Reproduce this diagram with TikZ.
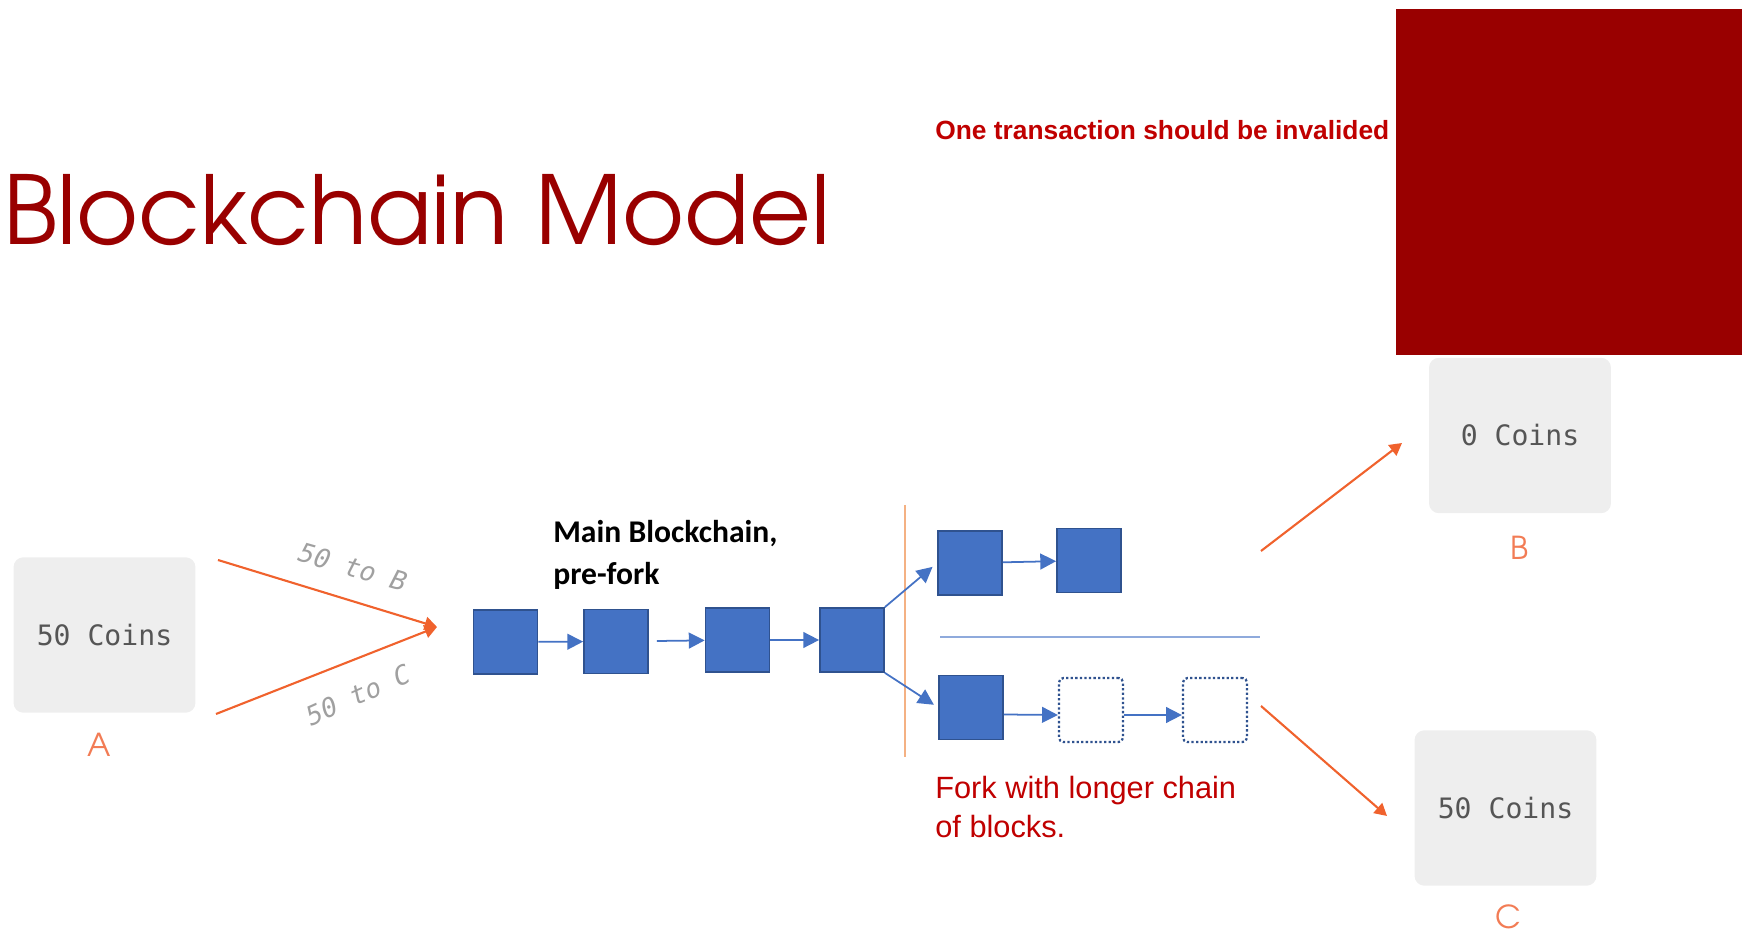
\documentclass[tikz,border=0pt]{standalone}
\usepackage{fontspec}
\usetikzlibrary{arrows.meta}
\IfFontExistsTF{TeX Gyre Adventor}{\newfontfamily\titlefont{TeX Gyre Adventor}}{\newfontfamily\titlefont{Poppins}}
\newfontfamily\monofont{DejaVu Sans Mono}
\newfontfamily\arialfont{Liberation Sans}
\newfontfamily\calfont{Carlito}
\definecolor{titlered}{HTML}{990000}
\definecolor{textred}{HTML}{C00000}
\definecolor{orangeln}{HTML}{F0622D}
\definecolor{orangelbl}{HTML}{F27C55}
\definecolor{coinsgray}{HTML}{555555}
\definecolor{lightgraytxt}{HTML}{A0A0A0}
\definecolor{boxgray}{HTML}{EEEEEE}
\definecolor{blockblue}{HTML}{4472C4}
\definecolor{blockedge}{HTML}{2F528F}
\definecolor{divblue}{HTML}{8FAADC}
\definecolor{vorange}{HTML}{F4B183}
\begin{document}
\begin{tikzpicture}[x=0.02cm,y=0.02cm,
  coinbox/.style={fill=boxgray, rounded corners=0.2cm, minimum width=3.64cm, minimum height=3.11cm, inner sep=0, font=\monofont\fontsize{16}{19}\selectfont, text=coinsgray},
  party/.style={font=\titlefont\fontsize{18}{20}\selectfont, text=orangelbl, inner sep=0},
  blk/.style={draw=blockedge, fill=blockblue, line width=1pt, minimum size=1.28cm, inner sep=0},
  ghost/.style={draw=blockedge, line width=1.3pt, dash pattern=on 1.3pt off 1.3pt, rounded corners=2.5pt, minimum size=1.28cm, inner sep=0},
  link/.style={draw=blockblue, line width=1pt, -{Triangle[length=9pt,width=9pt]}},
  pay/.style={draw=orangeln, line width=1.2pt, -{Triangle[length=7pt,width=7.5pt]}},
  transfer/.style={font=\monofont\itshape\fontsize{15}{18}\selectfont, text=lightgraytxt, inner sep=0},
  plain/.style={anchor=base west, inner sep=0}
]
\useasboundingbox (0,0) rectangle (1745,934);
\fill[titlered] (1396,579) rectangle (1742,925);

\node[plain, font=\titlefont\fontsize{54}{60}\selectfont, text=titlered] (title) at (3,689) {Blockchain Model};
\node[plain, font=\arialfont\bfseries\fontsize{15}{18}\selectfont, text=textred] (warn) at (935,794) {One transaction should be invalided};

% sender A
\node[coinbox] (boxA) at (104.5,299) {50 Coins};
\node[party] (lblA) at (99,189) {A};
\coordinate (ab) at (218,374);
\coordinate (ac) at (216,220);
\coordinate (tx) at (437,307);
\draw[pay] (ab) -- (tx);
\draw[pay] (ac) -- (tx);
\node[transfer, rotate=-16] (tb) at (353,367) {50 to B};
\node[transfer, rotate=24] (tc) at (358,239) {50 to C};

% main chain
\node[plain, font=\calfont\bfseries\fontsize{18}{24}\selectfont] (main1) at (553,391) {Main Blockchain,};
\node[plain, font=\calfont\bfseries\fontsize{18}{24}\selectfont] (main2) at (553,349) {pre-fork};
\node[blk] (b1) at (505.5,292) {};
\node[blk] (b2) at (616,292.5) {};
\node[blk] (b3) at (737.5,294) {};
\node[blk] (b4) at (852,294) {};
\draw[link] (b1) -- (b2);
\draw[link, shorten <=0.16cm] (b2) -- (b3);
\draw[link] (b3) -- (b4);

% fork marker
\coordinate (vt) at (905,429);
\coordinate (vb) at (905,177);
\draw[vorange, line width=1.1pt] (vt) -- (vb);

% fork branches
\node[blk] (u1) at (970,371) {};
\node[blk] (u2) at (1089,373.5) {};
\node[blk] (l1) at (971,226.5) {};
\node[ghost] (l2) at (1091,224) {};
\node[ghost] (l3) at (1215,224) {};
\draw[link, shorten >=0.12cm] (b4.north east) -- (u1.west);
\draw[link, shorten >=0.1cm] (b4.south east) -- (l1.west);
\draw[link] (u1) -- (u2);
\draw[link] ([yshift=-0.14cm]l1.east) -- ([yshift=-0.1cm]l2.west);
\draw[link] ([yshift=-0.1cm]l2.east) -- ([yshift=-0.1cm]l3.west);
\coordinate (d1) at (940,297);
\coordinate (d2) at (1260,297);
\draw[divblue, line width=1.1pt] (d1) -- (d2);

\node[plain, font=\arialfont\fontsize{17.5}{21}\selectfont, text=textred] (fork1) at (935,136) {Fork with longer chain};
\node[plain, font=\arialfont\fontsize{17.5}{21}\selectfont, text=textred] (fork2) at (935,97) {of blocks.};

% receivers
\node[coinbox] (boxB) at (1520,498.5) {0 Coins};
\node[party] (lblB) at (1520,386) {B};
\node[coinbox] (boxC) at (1505.5,126) {50 Coins};
\node[party] (lblC) at (1508,17) {C};
\coordinate (sb) at (1261,383);
\coordinate (eb) at (1402,491);
\draw[pay] (sb) -- (eb);
\coordinate (sc) at (1261,228);
\coordinate (ec) at (1387,118);
\draw[pay] (sc) -- (ec);
\end{tikzpicture}
\end{document}
